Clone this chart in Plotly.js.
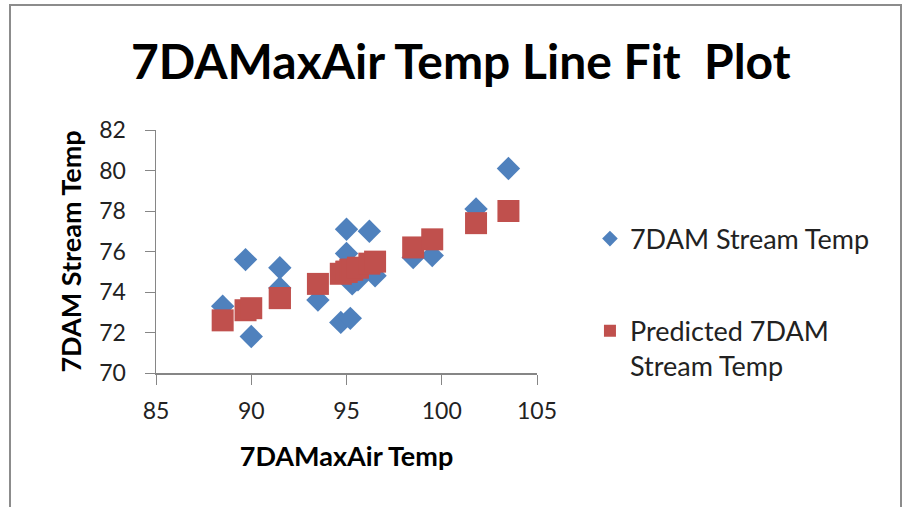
<!DOCTYPE html>
<html>
<head>
<meta charset="utf-8">
<script src="https://cdn.plot.ly/plotly-3.0.1.min.js"></script>
<style>
html,body{margin:0;padding:0;background:#fff;}
#wrap{position:relative;width:907px;height:507px;overflow:hidden;}
#chart{width:907px;height:507px;}
#frame{position:absolute;left:9px;top:4px;width:893px;height:520px;border:2px solid #8c8c8c;box-sizing:border-box;pointer-events:none;}
</style>
</head>
<body>
<div id="wrap"><div id="chart"></div><div id="frame"></div></div>
<script>
const airTemp = [88.5, 89.7, 90.0, 91.5, 91.5, 93.5, 94.7, 95.0, 95.0, 95.2, 95.3, 95.6, 96.2, 96.5, 98.5, 99.5, 101.8, 103.5];
const streamTemp = [73.3, 75.6, 71.8, 75.2, 74.2, 73.6, 72.5, 77.1, 75.9, 72.7, 74.4, 74.6, 77.0, 74.8, 75.7, 75.8, 78.1, 80.1];
const predictedTemp = [72.6, 73.1, 73.2, 73.7, 73.7, 74.4, 74.9, 75.0, 75.0, 75.1, 75.1, 75.2, 75.4, 75.5, 76.2, 76.6, 77.4, 78.0];
const seriesNames = ["7DAM Stream Temp", "Predicted 7DAM<br>Stream Temp"];
const chartTitle = "7DAMaxAir Temp Line Fit  Plot";
const xTitle = "7DAMaxAir Temp";
const yTitle = "7DAM Stream Temp";

const font = "Lato, 'Open Sans', Arial, sans-serif";
const traces = [
  {x: airTemp, y: streamTemp, name: seriesNames[0], type: 'scatter', mode: 'markers',
   legendgroup: 'a',
   marker: {symbol: 'diamond', size: 18, color: '#4F81BD'}},
  {x: airTemp, y: predictedTemp, name: seriesNames[1], type: 'scatter', mode: 'markers',
   legendgroup: 'b',
   marker: {symbol: 'square', size: 22, color: '#C0504D'}}
];
const layout = {
  width: 907, height: 507,
  margin: {l: 156, r: 370, t: 130, b: 134},
  paper_bgcolor: '#fff', plot_bgcolor: '#fff',
  font: {family: font, color: '#222'},
  title: {text: '<b>' + chartTitle + '</b>', font: {size: 48, color: '#000', family: font},
          x: 0.508, xanchor: 'center', y: 0.878, yanchor: 'middle'},
  xaxis: {range: [85, 105], dtick: 5, tick0: 85, showgrid: false, zeroline: false,
          showline: true, linecolor: '#868686', linewidth: 1.5,
          ticks: 'outside', ticklen: 10, tickcolor: '#868686', ticklabelstandoff: 7,
          tickfont: {size: 23, color: '#222'},
          title: {text: '<b>' + xTitle + '</b>', font: {size: 27, color: '#000'}, standoff: 24}},
  yaxis: {range: [70, 82], dtick: 2, tick0: 70, showgrid: false, zeroline: false,
          showline: true, linecolor: '#868686', linewidth: 1.5,
          ticks: 'outside', ticklen: 10, tickcolor: '#868686', ticklabelstandoff: 14,
          tickfont: {size: 23, color: '#222'},
          title: {text: '<b>' + yTitle + '</b>', font: {size: 27, color: '#000'}, standoff: 10}},
  showlegend: true,
  legend: {x: 1.139, xanchor: 'left', y: 0.652, yanchor: 'top', valign: 'top',
           font: {size: 27, color: '#222'}, tracegroupgap: 54,
           bgcolor: 'rgba(0,0,0,0)', itemsizing: 'constant'}
};
Plotly.newPlot('chart', traces, layout, {displayModeBar: false, staticPlot: true});
</script>
</body>
</html>
